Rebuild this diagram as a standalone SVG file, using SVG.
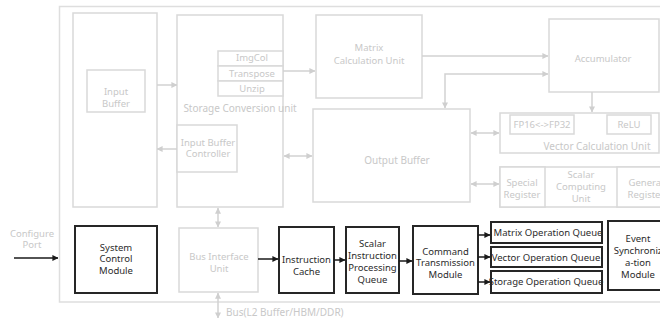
<svg xmlns="http://www.w3.org/2000/svg" width="660" height="320" viewBox="0 0 660 320">
  <defs>
    <marker id="ah-gray" viewBox="0 0 8 8" refX="7.5" refY="4" markerWidth="4" markerHeight="4" orient="auto-start-reverse">
      <path d="M0,0 L8,4 L0,8 z" fill="#cfcfcf"/>
    </marker>
    <marker id="ah-dark" viewBox="0 0 8 8" refX="7.5" refY="4" markerWidth="4" markerHeight="4" orient="auto-start-reverse">
      <path d="M0,0 L8,4 L0,8 z" fill="#1a1a1a"/>
    </marker>
  </defs>
  <style>
    .g{fill:#fff;stroke:#d9d9d9;stroke-width:1.5}
    .k{fill:#fff;stroke:#262626;stroke-width:2}
    .t{font-family:"Noto Sans","Open Sans","DejaVu Sans",sans-serif;font-size:9.5px;text-anchor:middle}
    .gt{fill:#c8c8c8}
    .kt{fill:#2b2b2b}
    .gl{fill:none;stroke:#d2d2d2;stroke-width:1.5}
    .kl{fill:none;stroke:#1a1a1a;stroke-width:1.5}
  </style>
  <rect width="660" height="320" fill="#fff"/>

  <!-- chip boundary -->
  <rect id="frame" x="59.5" y="6.5" width="640" height="295.5" fill="none" stroke="#dedede" stroke-width="1.5"/>

  <g id="input-buffer">
    <rect class="g" x="73" y="13" width="84" height="194"/>
    <rect class="g" x="87" y="70" width="58" height="42"/>
    <text class="t gt" x="116" y="94.5">Input</text>
    <text class="t gt" x="116" y="106.5">Buffer</text>
  </g>

  <g id="storage-conversion-unit">
    <rect class="g" x="177" y="15" width="106" height="192"/>
    <rect class="g" x="218" y="51" width="65" height="15"/>
    <rect class="g" x="218" y="66" width="65" height="15"/>
    <rect class="g" x="218" y="81" width="65" height="15"/>
    <text class="t gt" x="252" y="61">ImgCol</text>
    <text class="t gt" x="252" y="76.5">Transpose</text>
    <text class="t gt" x="252" y="92">Unzip</text>
    <text class="t gt" x="240" y="112" style="font-size:10px">Storage Conversion unit</text>
  </g>

  <g id="input-buffer-controller">
    <rect class="g" x="177" y="125" width="60" height="47"/>
    <text class="t gt" x="208" y="145.5">Input Buffer</text>
    <text class="t gt" x="208" y="157">Controller</text>
  </g>

  <g id="matrix-calculation-unit">
    <rect class="g" x="316" y="15" width="106" height="83"/>
    <text class="t gt" x="369" y="51">Matrix</text>
    <text class="t gt" x="369" y="63.5">Calculation Unit</text>
  </g>

  <g id="accumulator">
    <rect class="g" x="549" y="19" width="110" height="73"/>
    <text class="t gt" x="603" y="62">Accumulator</text>
  </g>

  <g id="vector-calculation-unit">
    <rect class="g" x="500" y="113" width="159" height="40"/>
    <rect class="g" x="510" y="115" width="64" height="19"/>
    <rect class="g" x="607" y="115" width="44" height="19"/>
    <text class="t gt" x="542" y="128">FP16&lt;-&gt;FP32</text>
    <text class="t gt" x="629" y="128">ReLU</text>
    <text class="t gt" x="597" y="150" style="font-size:10px">Vector Calculation Unit</text>
  </g>

  <g id="output-buffer">
    <rect class="g" x="313" y="109" width="157" height="93"/>
    <text class="t gt" x="397" y="164" style="font-size:10px">Output Buffer</text>
  </g>

  <g id="scalar-computing-unit">
    <rect class="g" x="500" y="167" width="190" height="40"/>
    <rect class="g" x="500" y="167" width="45" height="40"/>
    <rect class="g" x="617" y="167" width="73" height="40"/>
    <text class="t gt" x="522" y="185.5">Special</text>
    <text class="t gt" x="522" y="197.5">Register</text>
    <text class="t gt" x="581" y="177.5">Scalar</text>
    <text class="t gt" x="581" y="189.5">Computing</text>
    <text class="t gt" x="581" y="201.5">Unit</text>
    <text class="t gt" x="646" y="185.5">General</text>
    <text class="t gt" x="646" y="197.5">Register</text>
  </g>

  <g id="configure-port">
    <text class="t gt" x="32" y="236.5">Configure</text>
    <text class="t gt" x="32" y="248">Port</text>
  </g>

  <g id="system-control-module">
    <rect class="k" x="75" y="226" width="82" height="67"/>
    <text class="t kt" x="116" y="250.5">System</text>
    <text class="t kt" x="116" y="262">Control</text>
    <text class="t kt" x="116" y="273.5">Module</text>
  </g>

  <g id="bus-interface-unit">
    <rect class="g" x="179" y="228" width="79" height="64"/>
    <text class="t gt" x="219" y="259.5">Bus Interface</text>
    <text class="t gt" x="219" y="271.5">Unit</text>
  </g>

  <g id="instruction-cache">
    <rect class="k" x="279" y="227" width="55" height="66"/>
    <text class="t kt" x="306.5" y="263">Instruction</text>
    <text class="t kt" x="306.5" y="275">Cache</text>
  </g>

  <g id="scalar-instruction-queue">
    <rect class="k" x="346" y="227" width="53" height="66"/>
    <text class="t kt" x="372.5" y="246.5">Scalar</text>
    <text class="t kt" x="372.5" y="258.5">Instruction</text>
    <text class="t kt" x="372.5" y="270.5">Processing</text>
    <text class="t kt" x="372.5" y="282.5">Queue</text>
  </g>

  <g id="command-transmission-module">
    <rect class="k" x="413" y="226" width="65" height="68"/>
    <text class="t kt" x="445.5" y="254.5">Command</text>
    <text class="t kt" x="445.5" y="266">Transmission</text>
    <text class="t kt" x="445.5" y="277.5">Module</text>
  </g>

  <g id="matrix-operation-queue">
    <rect class="k" x="491" y="222" width="111" height="21"/>
    <text class="t kt" x="548" y="235.5">Matrix Operation Queue</text>
  </g>
  <g id="vector-operation-queue">
    <rect class="k" x="491" y="247" width="111" height="20"/>
    <text class="t kt" x="546" y="260.5">Vector Operation Queue</text>
  </g>
  <g id="storage-operation-queue">
    <rect class="k" x="491" y="271" width="111" height="22"/>
    <text class="t kt" x="546" y="285">Storage Operation Queue</text>
  </g>

  <g id="event-synchronization-module">
    <rect class="k" x="608" y="221" width="80" height="69"/>
    <text class="t kt" x="638" y="241.5">Event</text>
    <text class="t kt" x="638" y="253.5">Synchroniz</text>
    <text class="t kt" x="638" y="265.5">a-tion</text>
    <text class="t kt" x="638" y="277.5">Module</text>
  </g>

  <g id="bus-label">
    <text class="t gt" x="226" y="316" style="text-anchor:start;font-size:10px">Bus(L2 Buffer/HBM/DDR)</text>
  </g>

  <g id="connectors">
    <!-- data paths -->
    <line class="gl" x1="157" y1="85" x2="177" y2="85" marker-end="url(#ah-gray)"/>
    <line class="gl" x1="177" y1="149" x2="157" y2="149" marker-end="url(#ah-gray)"/>
    <line class="gl" x1="283" y1="71" x2="315" y2="71" marker-end="url(#ah-gray)"/>
    <line class="gl" x1="422" y1="56" x2="548" y2="56" marker-end="url(#ah-gray)"/>
    <polyline class="gl" points="445,108 445,74 548,74" marker-start="url(#ah-gray)" marker-end="url(#ah-gray)"/>
    <line class="gl" x1="592" y1="92" x2="592" y2="112" marker-end="url(#ah-gray)"/>
    <line class="gl" x1="284" y1="156" x2="312" y2="156" marker-start="url(#ah-gray)" marker-end="url(#ah-gray)"/>
    <line class="gl" x1="471" y1="133" x2="499" y2="133" marker-start="url(#ah-gray)" marker-end="url(#ah-gray)"/>
    <line class="gl" x1="471" y1="184" x2="499" y2="184" marker-start="url(#ah-gray)" marker-end="url(#ah-gray)"/>
    <line class="gl" x1="218" y1="208" x2="218" y2="227" marker-start="url(#ah-gray)" marker-end="url(#ah-gray)"/>
    <line class="gl" x1="218" y1="293" x2="218" y2="318" marker-start="url(#ah-gray)" marker-end="url(#ah-gray)"/>
    <!-- control paths -->
    <line class="kl" x1="14" y1="258" x2="58" y2="258" marker-end="url(#ah-dark)"/>
    <line class="kl" x1="258" y1="259" x2="278" y2="259" marker-end="url(#ah-dark)"/>
    <line class="kl" x1="334" y1="260" x2="345" y2="260" marker-end="url(#ah-dark)"/>
    <line class="kl" x1="399" y1="261" x2="412" y2="261" marker-end="url(#ah-dark)"/>
    <line class="kl" x1="478" y1="235" x2="490" y2="235" marker-end="url(#ah-dark)"/>
    <line class="kl" x1="478" y1="257" x2="490" y2="257" marker-end="url(#ah-dark)"/>
    <line class="kl" x1="478" y1="282" x2="490" y2="282" marker-end="url(#ah-dark)"/>
  </g>
</svg>
